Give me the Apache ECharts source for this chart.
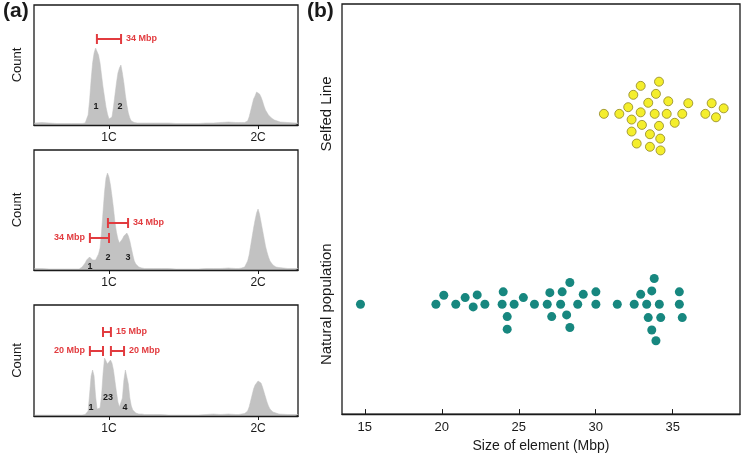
<!DOCTYPE html>
<html><head><meta charset="utf-8">
<script src="https://cdn.jsdelivr.net/npm/echarts@6/dist/echarts.min.js"></script>
<style>html,body{margin:0;padding:0;background:#fff}#c{width:748px;height:458px}</style>
</head><body><div id="c"></div>
<script>
// ---- Panel (a): flow cytometry histograms (relative DNA content, 1C = 1, 2C = 2) ----
const histX = [0.50,0.55,0.60,0.65,0.70,0.75,
  0.80,0.81,0.82,0.83,0.84,0.85,0.86,0.87,0.88,0.89,
  0.90,0.91,0.92,0.93,0.94,0.95,0.96,0.97,0.98,0.99,
  1.00,1.01,1.02,1.03,1.04,1.05,1.06,1.07,1.08,1.09,
  1.10,1.11,1.12,1.13,1.14,1.15,1.16,1.17,1.18,1.19,
  1.20,1.21,1.22,1.23,1.24,1.25,
  1.30,1.35,1.40,1.45,1.50,1.55,1.60,1.65,1.70,1.75,1.80,1.85,
  1.86,1.87,1.88,1.89,1.90,1.91,1.92,1.93,1.94,1.95,
  1.96,1.97,1.98,1.99,2.00,2.01,2.02,2.03,2.04,2.05,
  2.06,2.07,2.08,2.09,2.10,2.11,2.12,2.13,2.14,
  2.15,2.20,2.25,2.27];

const counts1 = [2,2.5,2,1.5,1.5,1.5,
  1.5,1.5,1.5,2,2,3,10,25,45,62,
  72,77,76,70,62,50,38,28,18,11,
  6,5,8,18,30,42,52,57,60,52,
  42,30,20,12,7,4,3,2.5,2.5,2,
  2,2,2,2,2,2,
  2,2,2,1.5,1.5,1.5,1.5,2,2,2.5,3,2.5,
  2.5,2.5,2.5,2.5,2.5,2.5,3,4,8,14,
  20,26,29,33,35,31,28,24,19,15,
  13,10,8,7,6,5,4,4,3.5,
  3,2.5,2,2];

const counts2 = [1.5,1.5,1,1,1,1,
  1,1.5,3,5,7,10,12,13,12,10,
  9,10,12,16,22,38,58,78,92,97,
  93,85,74,62,48,38,31,27,28,31,
  34,36,37,34,29,22,15,9,6,4,
  3,2,2,1.5,1.5,1.5,
  1.5,1.5,1.5,1,1,1,1,1.5,1.5,1.5,2,1.5,
  1.5,1.5,2,2,2.5,3,5,9,15,24,
  33,42,50,57,61,56,48,40,32,24,
  18,13,9,7,5,4,3,3,2.5,
  2,1.5,1.5,1.5];

const counts3 = [1,1,1,1,1,1,
  1,1,1,1.5,1.5,2,5,22,40,46,
  40,20,7,5,8,20,42,58,57,52,
  54,56,53,46,35,24,14,9,9,18,
  36,46,44,32,18,10,6,4,3,2.5,
  2,2,2,1.5,1.5,1.5,
  1.5,1.5,1,1,1,1,1,1.5,2,1.5,2,1.5,
  1.5,1.5,2,2,2,2.5,3,5,9,15,
  21,27,31,33,35,36,33,29,24,19,
  14,10,7,5,4,3,3,2.5,2,
  2,1.5,1.5,1.5];

const histTicks = [1, 2];

// interval annotations: [start, end, count level]
const bars1 = [[0.919, 1.081, 86]];
const barText1 = ['34 Mbp'];
const barSide1 = ['right'];
const bars2 = [[0.993, 1.128, 47], [0.872, 1.000, 32]];
const barText2 = ['34 Mbp', '34 Mbp'];
const barSide2 = ['right', 'left'];
const bars3 = [[0.960, 1.013, 84], [0.872, 0.960, 65], [1.013, 1.101, 65]];
const barText3 = ['15 Mbp', '20 Mbp', '20 Mbp'];
const barSide3 = ['right', 'left', 'right'];

// peak number labels: [x, count level]
const peaks1 = [[0.913, 18], [1.074, 18]];
const peakText1 = ['1', '2'];
const peaks2 = [[0.872, 3], [0.993, 12], [1.128, 12]];
const peakText2 = ['1', '2', '3'];
const peaks3 = [[0.879, 8], [0.993, 18], [1.108, 8]];
const peakText3 = ['1', '23', '4'];

// ---- Panel (b): element sizes (Mbp) with swarm offsets ----
const groupNames = ['Natural population', 'Selfed Line'];
const selfedX = [30.53,31.53,32.33,32.11,32.44,32.92,34.11,33.91,33.41,34.71,32.92,33.83,34.61,35.62,36.01,33.00,34.11,35.13,32.33,33.52,34.19,32.66,33.52,34.21,37.53,38.31,37.12,37.81];
const selfedOff = [0,0,-0.030,0.035,0.100,0.147,0.169,0.105,0.058,0.066,0.008,0,0,0,0.056,-0.058,-0.063,-0.047,-0.093,-0.107,-0.130,-0.156,-0.173,-0.192,0.056,0.029,0,-0.018];
const naturalX = [14.72,19.62,20.13,20.91,21.52,22.04,22.30,22.80,23.99,23.92,24.25,24.25,24.70,25.30,26.02,27.02,26.85,27.14,27.82,28.32,27.72,28.11,28.32,28.83,29.19,30.01,30.01,31.40,32.50,32.92,33.64,33.80,33.31,34.13,33.41,34.22,33.64,33.91,35.43,35.43,35.62];
const naturalOff = [0,0,0.047,0,0.035,-0.014,0.049,0,0.065,0,-0.065,-0.131,0,0.035,0,0.061,0,-0.065,0.065,0.114,0,-0.056,-0.122,0,0.052,0.065,0,0,0,0.052,0.070,0.135,0,0,-0.070,-0.070,-0.135,-0.192,0.065,0,-0.070];
const sizeTicks = [15, 20, 25, 30, 35];

// ---- build chart ----
const FONT = '"Liberation Sans", Arial, Helvetica, sans-serif';
const GRAY = '#c2c2c2';
const RED = '#e23b3f';
const INK = '#1a1a1a';

function histSeries(idx, counts) {
  return {type: 'line', xAxisIndex: idx, yAxisIndex: idx, silent: true,
    data: histX.map((x, i) => [x, counts[i]]), symbol: 'none',
    lineStyle: {width: 0.5, color: GRAY}, areaStyle: {color: GRAY, opacity: 1}};
}
function barSeries(idx, bars, texts, sides) {
  return {type: 'custom', xAxisIndex: idx, yAxisIndex: idx, data: bars, z: 10, silent: true,
    renderItem: (params, api) => {
      const s = api.coord([api.value(0), api.value(2)]);
      const e = api.coord([api.value(1), api.value(2)]);
      const cap = 5, st = {stroke: RED, lineWidth: 2};
      const side = sides[params.dataIndex];
      return {type: 'group', children: [
        {type: 'line', shape: {x1: s[0], y1: s[1], x2: e[0], y2: e[1]}, style: st},
        {type: 'line', shape: {x1: s[0], y1: s[1] - cap, x2: s[0], y2: s[1] + cap}, style: st},
        {type: 'line', shape: {x1: e[0], y1: e[1] - cap, x2: e[0], y2: e[1] + cap}, style: st},
        {type: 'text', x: side === 'right' ? e[0] + 5 : s[0] - 5, y: s[1],
          style: {text: texts[params.dataIndex], fill: RED, font: 'bold 9px ' + FONT,
            align: side === 'right' ? 'left' : 'right', verticalAlign: 'middle'}}
      ]};
    }};
}
function peakSeries(idx, pts, texts) {
  return {type: 'custom', xAxisIndex: idx, yAxisIndex: idx, data: pts, z: 10, silent: true,
    renderItem: (params, api) => {
      const p = api.coord([api.value(0), api.value(1)]);
      return {type: 'text', x: p[0], y: p[1],
        style: {text: texts[params.dataIndex], fill: INK, font: 'bold 9px ' + FONT,
          align: 'center', verticalAlign: 'middle'}};
    }};
}

const frame = {show: true, borderColor: INK, borderWidth: 1.3, backgroundColor: 'transparent'};
const grids = [
  Object.assign({left: 34, top: 5, width: 264, height: 120}, frame),
  Object.assign({left: 34, top: 150, width: 264, height: 120}, frame),
  Object.assign({left: 34, top: 305, width: 264, height: 111}, frame),
  Object.assign({left: 342, top: 4, width: 398, height: 412}, frame)
];
const histYMax = [120, 120, 111];

const xAxes = [0, 1, 2].map(i => ({
  type: 'value', gridIndex: i, min: 0.497, max: 2.268, z: 5,
  axisLine: {show: true, lineStyle: {color: INK, width: 1.3}},
  axisTick: {show: true, customValues: histTicks, length: 4, lineStyle: {color: INK}},
  axisLabel: {show: true, customValues: histTicks, formatter: v => v + 'C', fontSize: 12,
    margin: 7, color: INK, fontFamily: FONT},
  splitLine: {show: false}
}));
xAxes.push({
  type: 'value', gridIndex: 3, min: 13.52, max: 39.37, z: 5,
  axisLine: {show: true, lineStyle: {color: INK, width: 1.3}},
  axisTick: {show: true, inside: true, customValues: sizeTicks, length: 5, lineStyle: {color: INK}},
  axisLabel: {show: true, customValues: sizeTicks, fontSize: 13, margin: 7, color: INK, fontFamily: FONT},
  splitLine: {show: false},
  name: 'Size of element (Mbp)', nameLocation: 'middle', nameGap: 20,
  nameTextStyle: {fontSize: 14, color: INK, fontFamily: FONT}
});
const yAxes = [0, 1, 2].map(i => ({
  type: 'value', gridIndex: i, min: 0, max: histYMax[i],
  axisLine: {show: false}, axisTick: {show: false}, axisLabel: {show: false}, splitLine: {show: false},
  name: 'Count', nameLocation: 'middle', nameGap: 10, nameRotate: 90,
  nameTextStyle: {fontSize: 13, color: INK, fontFamily: FONT}
}));
yAxes.push({
  type: 'value', gridIndex: 3, min: 0.423, max: 2.577,
  axisLine: {show: false}, axisTick: {show: false}, splitLine: {show: false},
  axisLabel: {show: true, customValues: [1, 2], formatter: v => groupNames[Math.round(v) - 1],
    rotate: 90, fontSize: 15, margin: 8, color: INK, fontFamily: FONT}
});

const chart = echarts.init(document.getElementById('c'), null, {renderer: 'canvas'});
chart.setOption({
  animation: false,
  backgroundColor: '#fff',
  textStyle: {fontFamily: FONT},
  title: [
    {text: '(a)', left: 3, top: 1, padding: 0, textStyle: {fontSize: 21, fontWeight: 'bold', color: INK, fontFamily: FONT}},
    {text: '(b)', left: 307, top: 1, padding: 0, textStyle: {fontSize: 21, fontWeight: 'bold', color: INK, fontFamily: FONT}}
  ],
  grid: grids,
  xAxis: xAxes,
  yAxis: yAxes,
  series: [
    histSeries(0, counts1), histSeries(1, counts2), histSeries(2, counts3),
    barSeries(0, bars1, barText1, barSide1),
    barSeries(1, bars2, barText2, barSide2),
    barSeries(2, bars3, barText3, barSide3),
    peakSeries(0, peaks1, peakText1),
    peakSeries(1, peaks2, peakText2),
    peakSeries(2, peaks3, peakText3),
    {type: 'scatter', xAxisIndex: 3, yAxisIndex: 3, symbolSize: 9, silent: true,
      data: naturalX.map((x, i) => [x, 1 + naturalOff[i]]),
      itemStyle: {color: '#17877f', opacity: 1}},
    {type: 'scatter', xAxisIndex: 3, yAxisIndex: 3, symbolSize: 9, silent: true,
      data: selfedX.map((x, i) => [x, 2 + selfedOff[i]]),
      itemStyle: {color: '#f4ee2c', borderColor: '#8f8522', borderWidth: 0.8, opacity: 1}}
  ]
});
</script></body></html>
